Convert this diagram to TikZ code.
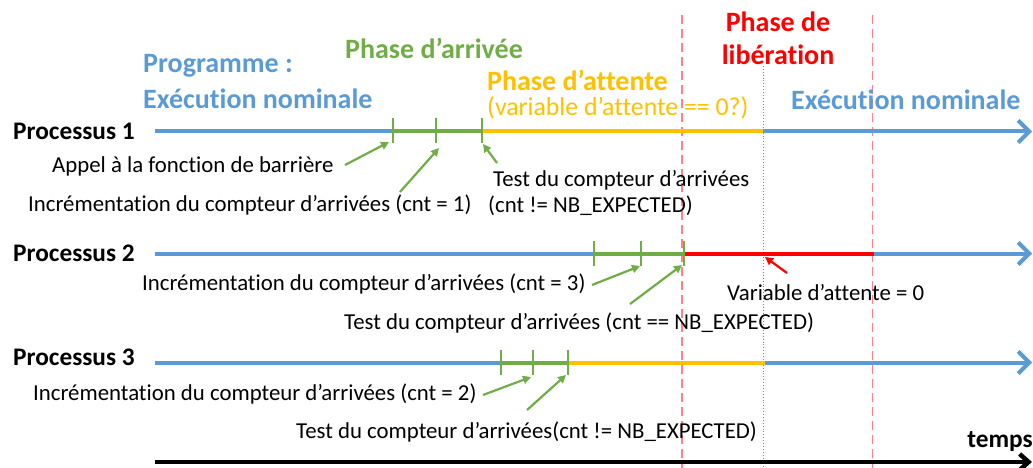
\documentclass[tikz,border=0pt]{standalone}
\usepackage{fontspec}
\setmainfont{Carlito}[Ligatures={TeX,NoCommon}]
\usetikzlibrary{arrows.meta}
\definecolor{cblue}{HTML}{5B9BD5}
\definecolor{cgreen}{HTML}{70AD47}
\definecolor{cyellow}{HTML}{FFC000}
\definecolor{cred}{HTML}{FF0000}
\definecolor{cdash}{HTML}{FF8088}
\tikzset{
  seg/.style={line width=4pt},
  blueseg/.style={seg, cblue},
  greenseg/.style={seg, cgreen},
  yellowseg/.style={seg, cyellow},
  redseg/.style={seg, cred},
  tick/.style={cgreen, line width=2pt},
  endarrow/.style={-{Straight Barb[length=11pt,width=22pt,line width=4pt]}},
  callout/.style={cgreen, line width=2.2pt, -{Triangle[length=8pt,width=8pt]}},
  redcallout/.style={cred, line width=2.2pt, -{Triangle[length=8pt,width=8pt]}},
  lbl/.style={inner sep=0pt, anchor=west, font=\fontsize{22.8}{26}\selectfont},
  head/.style={inner sep=0pt, anchor=west, font=\fontsize{28}{32}\selectfont\bfseries},
  proc/.style={inner sep=0pt, anchor=west, font=\fontsize{25.3}{29}\selectfont\bfseries},
  phaseline/.style={cdash, line width=1.2pt, dash pattern=on 9pt off 5pt},
  syncline/.style={gray, line width=0.9pt, dotted}
}
\begin{document}
\begin{tikzpicture}[x=1pt,y=-1pt]
\useasboundingbox (0,0) rectangle (1033,468);

% phase boundaries
\coordinate (d1t) at (682,15);  \coordinate (d1b) at (682,468);
\coordinate (d2t) at (872.5,15); \coordinate (d2b) at (872.5,468);
\coordinate (gt) at (763,66);   \coordinate (gb) at (763,468);
\draw[phaseline] (d1t) -- (d1b);
\draw[phaseline] (d2t) -- (d2b);
\draw[syncline] (gt) -- (gb);

% headings
\node[head, text=cblue] (prog) at (143,66) {Programme :};
\node[head, text=cblue] (nom1) at (143,99) {Exécution nominale};
\node[head, text=cgreen] (arr) at (345,48) {Phase d’arrivée};
\node[head, text=cyellow] (att) at (487,80) {Phase d’attente};
\node[lbl, text=cyellow, font=\fontsize{25.8}{29}\selectfont] (attv) at (487,108) {(variable d’attente == 0?)};
\node[head, text=cred, anchor=center] (lib1) at (778,22) {Phase de};
\node[head, text=cred, anchor=center] (lib2) at (778,55) {libération};
\node[head, text=cblue] (nom2) at (791,100) {Exécution nominale};

% process labels
\node[proc] (P1) at (13,131) {Processus 1};
\node[proc] (P2) at (13,253) {Processus 2};
\node[proc] (P3) at (13,357) {Processus 3};

% process 1 timeline
\coordinate (a0) at (155,131.5);
\coordinate (a1) at (393,131.5);
\coordinate (a2) at (436,131.5);
\coordinate (a3) at (482,131.5);
\coordinate (a4) at (763,131.5);
\coordinate (a5) at (1032,131.5);
\draw[blueseg] (a0) -- (a1);
\draw[greenseg] (a1) -- (a3);
\draw[yellowseg] (a3) -- (a4);
\draw[blueseg, endarrow] (a4) -- (a5);
\foreach \c in {a1,a2,a3} \draw[tick] ([yshift=-12pt]\c) -- ([yshift=13pt]\c);

% process 2 timeline
\coordinate (b0) at (155,253.5);
\coordinate (b1) at (594,253.5);
\coordinate (b2) at (641,253.5);
\coordinate (b3) at (683.5,253.5);
\coordinate (b4) at (874,253.5);
\coordinate (b5) at (1032,253.5);
\draw[blueseg] (b0) -- (b1);
\draw[greenseg] (b1) -- (b3);
\draw[redseg] (b3) -- (b4);
\draw[blueseg, endarrow] (b4) -- (b5);
\foreach \c in {b1,b2,b3} \draw[tick] ([yshift=-12pt]\c) -- ([yshift=13pt]\c);

% process 3 timeline
\coordinate (c0) at (155,362.5);
\coordinate (c1) at (501,362.5);
\coordinate (c2) at (532.5,362.5);
\coordinate (c3) at (567.5,362.5);
\coordinate (c4) at (765,362.5);
\coordinate (c5) at (1032,362.5);
\draw[blueseg] (c0) -- (c1);
\draw[greenseg] (c1) -- (c3);
\draw[yellowseg] (c3) -- (c4);
\draw[blueseg, endarrow] (c4) -- (c5);
\foreach \c in {c1,c2,c3} \draw[tick] ([yshift=-12pt]\c) -- ([yshift=13pt]\c);

% time axis
\coordinate (t0) at (155,462);
\coordinate (t1) at (1032,462);
\draw[line width=4.5pt, -{Straight Barb[length=9pt,width=16pt,line width=4.5pt]}] (t0) -- (t1);
\node[proc, anchor=center] (temps) at (1000,442) {temps};

% process 1 annotations
\node[lbl] (n1a) at (52,166) {Appel à la fonction de barrière};
\node[lbl] (n1b) at (28,205) {Incrémentation du compteur d’arrivées (cnt = 1)};
\node[lbl] (n1c) at (493,180) {Test du compteur d’arrivées};
\node[lbl] (n1d) at (488,206) {(cnt != NB\_EXPECTED)};
\coordinate (s1a) at (345,165); \coordinate (e1a) at (389,142);
\coordinate (s1b) at (400,192); \coordinate (e1b) at (439,148);
\coordinate (s1c) at (497,163); \coordinate (e1c) at (483,144);
\draw[callout] (s1a) -- (e1a);
\draw[callout] (s1b) -- (e1b);
\draw[callout] (s1c) -- (e1c);

% process 2 annotations
\node[lbl] (n2a) at (142,284) {Incrémentation du compteur d’arrivées (cnt = 3)};
\node[lbl] (n2b) at (344,323) {Test du compteur d’arrivées (cnt == NB\_EXPECTED)};
\node[lbl] (n2c) at (727,293) {Variable d’attente = 0};
\coordinate (s2a) at (592,285); \coordinate (e2a) at (640,266);
\coordinate (s2b) at (630,304); \coordinate (e2b) at (682,265);
\coordinate (s2c) at (787,273); \coordinate (e2c) at (765,257);
\draw[callout] (s2a) -- (e2a);
\draw[callout] (s2b) -- (e2b);
\draw[redcallout] (s2c) -- (e2c);

% process 3 annotations
\node[lbl] (n3a) at (33,394) {Incrémentation du compteur d’arrivées (cnt = 2)};
\node[lbl] (n3b) at (296,432) {Test du compteur d’arrivées(cnt != NB\_EXPECTED)};
\coordinate (s3a) at (483,395); \coordinate (e3a) at (531,377);
\coordinate (s3b) at (527,410); \coordinate (e3b) at (566,375);
\draw[callout] (s3a) -- (e3a);
\draw[callout] (s3b) -- (e3b);
\end{tikzpicture}
\end{document}
